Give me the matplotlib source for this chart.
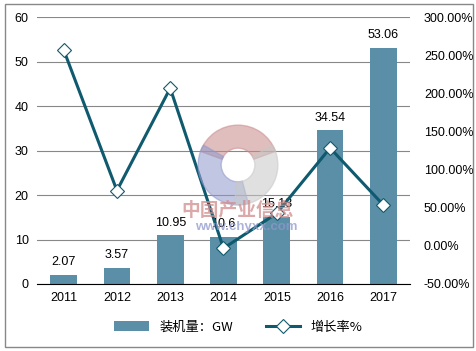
import matplotlib
matplotlib.use('Agg')
import matplotlib.pyplot as plt
from matplotlib.patches import Rectangle, Wedge
from matplotlib.ticker import FuncFormatter

plt.rcParams['font.family'] = ['Liberation Sans', 'Noto Sans CJK SC', 'DejaVu Sans']

years = ['2011', '2012', '2013', '2014', '2015', '2016', '2017']
capacity = [2.07, 3.57, 10.95, 10.6, 15.13, 34.54, 53.06]
growth = [257.0, 72.5, 206.7, -3.2, 42.7, 128.3, 53.6]

bar_color = '#5b8fa8'
line_color = '#0f5a6e'

fig = plt.figure(figsize=(4.77, 3.51), dpi=100)
ax = fig.add_axes([37 / 477, 1 - 284 / 351, 373 / 477, 267 / 351])
x = range(len(years))
bars = ax.bar(x, capacity, width=0.5, color=bar_color, zorder=2, label='装机量：GW')
ax.set_ylim(0, 60)
ax.set_xlim(-0.5, len(years) - 0.5)
ax.set_yticks(range(0, 61, 10))
ax.grid(axis='y', color='#888888', linewidth=0.8, zorder=0)
for s in ['top', 'right', 'left']:
    ax.spines[s].set_visible(False)
ax.spines['bottom'].set_color('black')
ax.tick_params(axis='both', length=0, labelsize=9, pad=6)
ax.set_xticks(list(x))
ax.set_xticklabels(years)
for i, v in enumerate(capacity):
    ax.text(i, v + 1.5, f'{v:g}', ha='center', va='bottom', fontsize=9, zorder=5)

ax2 = ax.twinx()
ax2.set_ylim(-50, 300)
ax2.set_yticks(range(-50, 301, 50))
ax2.yaxis.set_major_formatter(FuncFormatter(lambda v, p: f'{v:.2f}%'))
for s in ['top', 'right', 'left', 'bottom']:
    ax2.spines[s].set_visible(False)
ax2.tick_params(axis='y', length=0, labelsize=9, pad=10)
line, = ax2.plot(list(x), growth, color=line_color, linewidth=2.2, marker='D',
                 markersize=7, markerfacecolor='white', markeredgecolor=line_color,
                 markeredgewidth=0.8, zorder=4, label='增长率%')

# watermark logo
wm = fig.add_axes([(238 - 42) / 477, 1 - (165 + 42) / 351, 84 / 477, 84 / 351])
wm.set_xlim(-1, 1)
wm.set_ylim(-1, 1)
wm.set_aspect('equal')
wm.axis('off')
wm.add_patch(Wedge((0, 0), 0.95, 20, 160, width=0.55, color='#c98a8a', alpha=0.55))
wm.add_patch(Wedge((0, 0), 0.95, 150, 285, width=0.55, color='#8f98cc', alpha=0.55))
wm.add_patch(Wedge((0, 0), 0.95, 265, 30, width=0.55, color='#c8c8c8', alpha=0.55))
fig.text(238 / 477, 1 - 210 / 351, '中国产业信息', ha='center', va='center', fontsize=13.5,
         color='#d08c8c', alpha=0.75, family=['Noto Sans CJK SC'], fontweight='bold', zorder=6)
fig.text(246 / 477, 1 - 227 / 351, 'www.chyxx.com', ha='center', va='center', fontsize=9.5,
         color='#8f98cc', alpha=0.75, fontweight='bold', zorder=6)

fig.legend(handles=[bars, line], loc='center', bbox_to_anchor=(0.5, 1 - 327 / 351),
           ncol=2, frameon=False, handlelength=2.6, columnspacing=2.5,
           prop={'family': ['Noto Sans CJK SC'], 'size': 9.5})

fig.patches.append(Rectangle((0.01, 0.012), 0.982, 0.976, transform=fig.transFigure,
                             fill=False, edgecolor='#888888', linewidth=1))

fig.savefig('out.png', dpi=100)
